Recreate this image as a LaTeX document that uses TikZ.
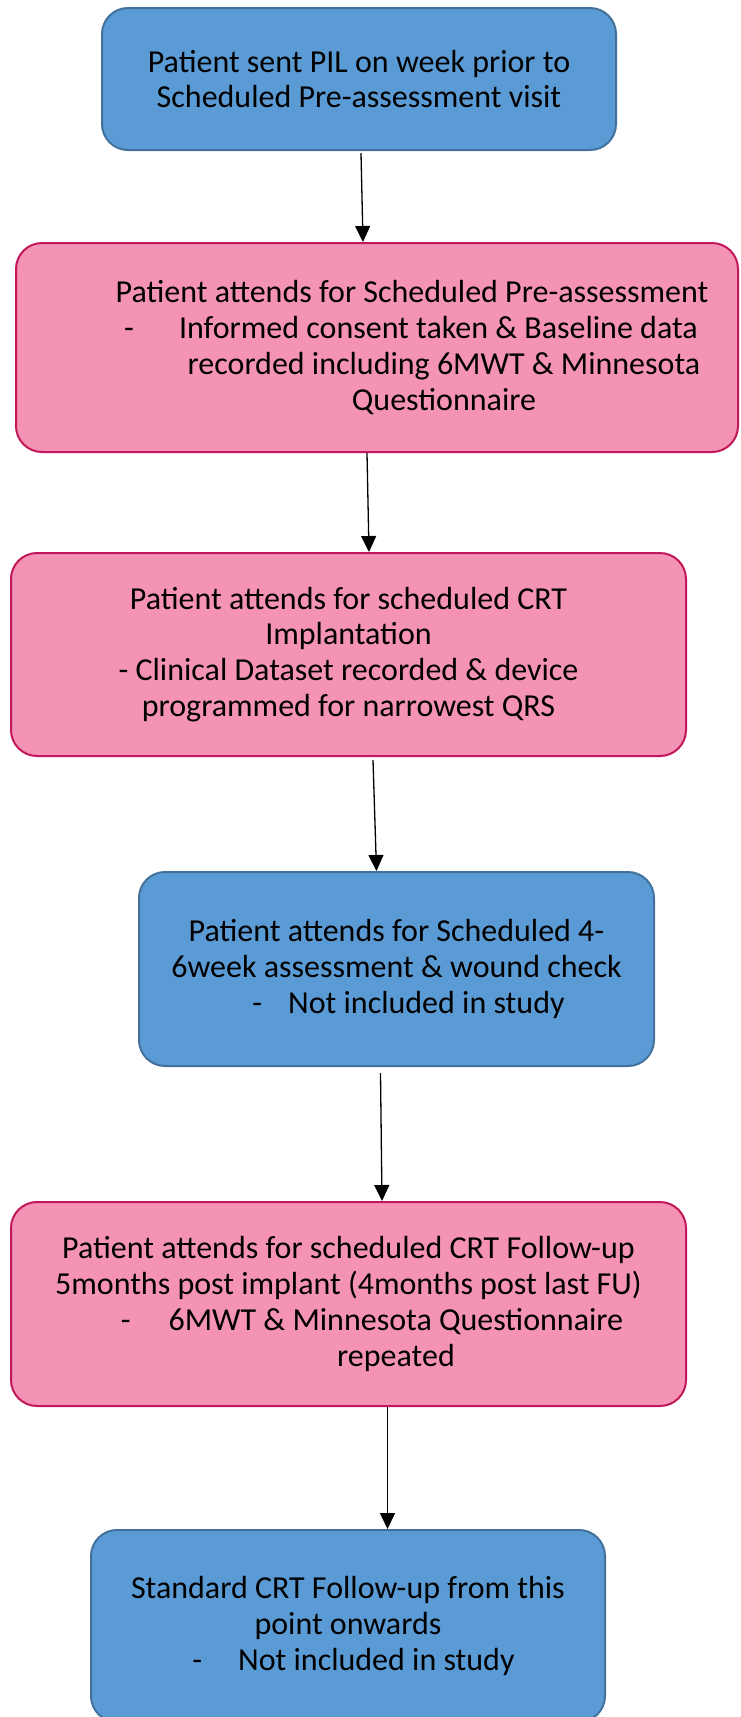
\documentclass[tikz,border=0pt]{standalone}
\usepackage{fontspec}
\setmainfont{Carlito}
\usetikzlibrary{arrows.meta,calc}
\definecolor{bluefill}{RGB}{91,155,213}
\definecolor{blueline}{RGB}{65,113,156}
\definecolor{pinkfill}{RGB}{244,147,180}
\definecolor{pinkline}{RGB}{194,24,91}
\tikzset{
  flowbox/.style={rectangle, rounded corners=26pt, line width=2pt, align=center, inner sep=0pt,
    font=\fontsize{32}{35.8}\selectfont, text=black},
  bluebox/.style={flowbox, draw=blueline, fill=bluefill},
  pinkbox/.style={flowbox, draw=pinkline, fill=pinkfill},
  arr/.style={line width=1.3pt, -{Triangle[width=15pt,length=16pt]}}
}
\begin{document}
\begin{tikzpicture}[x=1pt,y=-1pt]
\useasboundingbox (0,0) rectangle (740,1717);
\node[bluebox, minimum width=514pt, minimum height=142pt] (b1) at (359,79)
  {Patient sent PIL on week prior to\\Scheduled Pre-assessment visit};
\node[pinkbox, minimum width=722pt, minimum height=209pt] (b2) at (377,347.5)
  {\hspace*{70pt}Patient attends for Scheduled Pre-assessment\\
   \hspace*{68pt}-\hspace{45pt}Informed consent taken \& Baseline data\\
   \hspace*{134pt}recorded including 6MWT \& Minnesota\\
   \hspace*{134pt}Questionnaire};
\node[pinkbox, minimum width=675pt, minimum height=203pt] (b3) at (348.5,654.5)
  {Patient attends for scheduled CRT\\Implantation\\- Clinical Dataset recorded \& device\\programmed for narrowest QRS};
\node[bluebox, minimum width=515pt, minimum height=194pt] (b4) at (396.5,969)
  {Patient attends for Scheduled 4-\\6week assessment \& wound check\\
   \hspace*{24pt}-\hspace{26pt}Not included in study};
\node[pinkbox, minimum width=675pt, minimum height=204pt] (b5) at (348.5,1304)
  {Patient attends for scheduled CRT Follow-up\\5months post implant (4months post last FU)\\
   \hspace*{47pt}-\hspace{38pt}6MWT \& Minnesota Questionnaire\\
   \hspace*{95pt}repeated};
\node[bluebox, minimum width=514pt, minimum height=192pt] (b6) at (348,1626)
  {Standard CRT Follow-up from this\\point onwards\\
   \hspace*{11pt}-\hspace{36pt}Not included in study};
\draw[arr] ($(b1.south)+(2,2)$) -- ($(b2.north)+(-14,0)$);
\draw[arr] ($(b2.south)+(-10,0)$) -- ($(b3.north)+(20.5,0)$);
\draw[arr] ($(b3.south)+(24.5,3)$) -- ($(b4.north)+(-20,0)$);
\draw[arr] ($(b4.south)+(-16,6)$) -- ($(b5.north)+(33.5,0)$);
\draw[arr] ($(b5.south)+(39,0)$) -- ($(b6.north)+(39.5,0)$);
\end{tikzpicture}
\end{document}
